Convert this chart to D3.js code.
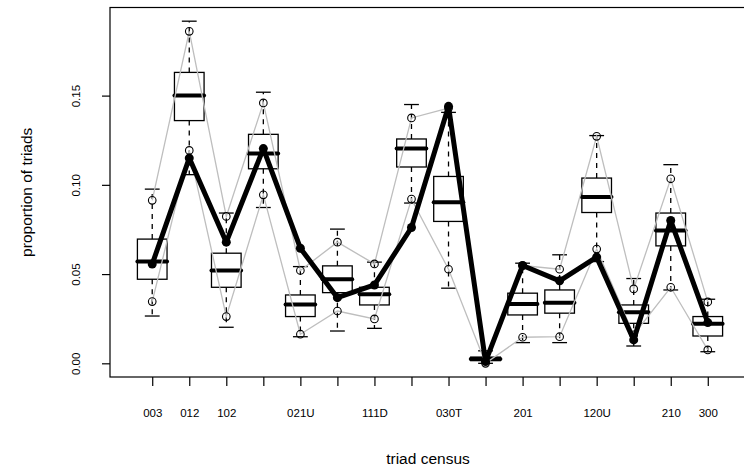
<!DOCTYPE html>
<html>
<head>
<meta charset="utf-8">
<script src="https://cdn.jsdelivr.net/npm/d3@7"></script>
<style>
body { margin: 0; background: white; }
svg { display: block; }
text { font-family: "Liberation Sans", Arial, Helvetica, sans-serif; fill: black; }
</style>
</head>
<body>
<svg id="chart" width="744" height="476"></svg>
<script>
// triad census categories
var categories = ["003", "012", "102", "021D", "021U", "021C", "111D", "111U",
    "030T", "030C", "201", "120D", "120U", "120C", "210", "300"];
// R drops labels that overlap, only these are printed
var shownLabels = ["003", "012", "102", "", "021U", "", "111D", "",
    "030T", "", "201", "", "120U", "", "210", "300"];

// boxplot stats (simulated networks)
var whiskerHi = [0.0976, 0.1917, 0.0842, 0.1519, 0.0542, 0.0752, 0.0567, 0.1450,
    0.1406, 0.0070, 0.0561, 0.0608, 0.1276, 0.0475, 0.1113, 0.0359];
var q3 = [0.0696, 0.1630, 0.0617, 0.1283, 0.0383, 0.0546, 0.0426, 0.1257,
    0.1047, 0.0035, 0.0393, 0.0411, 0.1038, 0.0327, 0.0842, 0.0262];
var median = [0.0570, 0.1500, 0.0520, 0.1175, 0.0329, 0.0471, 0.0387, 0.1203,
    0.0903, 0.0024, 0.0333, 0.0340, 0.0932, 0.0286, 0.0744, 0.0221];
var q1 = [0.0471, 0.1360, 0.0426, 0.1090, 0.0262, 0.0396, 0.0327, 0.1100,
    0.0795, 0.0015, 0.0271, 0.0281, 0.0845, 0.0224, 0.0658, 0.0153];
var whiskerLo = [0.0265, 0.1057, 0.0202, 0.0873, 0.0149, 0.0181, 0.0196, 0.0898,
    0.0421, 0.0000, 0.0116, 0.0116, 0.0570, 0.0097, 0.0411, 0.0065];

// grey reference lines
var upperObs = [0.0913, 0.1860, 0.0823, 0.1459, 0.0520, 0.0679, 0.0557, 0.1375,
    0.1430, 0.0020, 0.0548, 0.0527, 0.1272, 0.0417, 0.1034, 0.0344];
var lowerObs = [0.0346, 0.1193, 0.0262, 0.0944, 0.0163, 0.0293, 0.0249, 0.0920,
    0.0527, 0.0000, 0.0146, 0.0149, 0.0640, 0.0160, 0.0426, 0.0075];

// observed network (thick black)
var observed = [0.0556, 0.1150, 0.0679, 0.1203, 0.0645, 0.0368, 0.0439, 0.0761,
    0.1440, 0.0010, 0.0548, 0.0462, 0.0595, 0.0131, 0.0800, 0.0228];

var yTicks = [0, 0.05, 0.10, 0.15];

var svg = d3.select("#chart");
var margin = {left: 110, right: 750, top: 7.5, bottom: 377};

// R style 4% extension of the ranges
var n = categories.length;
var xlo = 0.5, xhi = n + 0.5;
var xpad = (xhi - xlo) * 0.04;
var x = d3.scaleLinear().domain([xlo - xpad, xhi + xpad]).range([margin.left, margin.right]);

var ymax = d3.max(whiskerHi.concat(upperObs, observed));
var ymin = 0;
var ypad = (ymax - ymin) * 0.04;
var y = d3.scaleLinear().domain([ymin - ypad, ymax + ypad]).range([margin.bottom, margin.top]);

var boxHalf = (x(1.4) - x(0.6)) / 2;
var capHalf = boxHalf / 2;

var idx = d3.range(n);

// boxes
var boxes = svg.append("g").attr("class", "boxes");
idx.forEach(function (i) {
    var cx = x(i + 1);
    var g = boxes.append("g");
    g.append("line")
        .attr("x1", cx).attr("x2", cx)
        .attr("y1", y(q3[i])).attr("y2", y(whiskerHi[i]))
        .attr("stroke", "black").attr("stroke-width", 1.3)
        .attr("stroke-dasharray", "5,5");
    g.append("line")
        .attr("x1", cx).attr("x2", cx)
        .attr("y1", y(q1[i])).attr("y2", y(whiskerLo[i]))
        .attr("stroke", "black").attr("stroke-width", 1.3)
        .attr("stroke-dasharray", "5,5");
    [whiskerHi[i], whiskerLo[i]].forEach(function (v) {
        g.append("line")
            .attr("x1", cx - capHalf).attr("x2", cx + capHalf)
            .attr("y1", y(v)).attr("y2", y(v))
            .attr("stroke", "black").attr("stroke-width", 1.3);
    });
    g.append("rect")
        .attr("x", cx - boxHalf).attr("width", boxHalf * 2)
        .attr("y", y(q3[i])).attr("height", y(q1[i]) - y(q3[i]))
        .attr("fill", "none").attr("stroke", "black").attr("stroke-width", 1.3);
    g.append("line")
        .attr("x1", cx - boxHalf).attr("x2", cx + boxHalf)
        .attr("y1", y(median[i])).attr("y2", y(median[i]))
        .attr("stroke", "black").attr("stroke-width", 4)
        .attr("stroke-linecap", "round");
});

// grey lines with open circles
var line = d3.line()
    .x(function (d, i) { return x(i + 1); })
    .y(function (d) { return y(d); });

[upperObs, lowerObs].forEach(function (series) {
    svg.append("path")
        .attr("d", line(series))
        .attr("fill", "none")
        .attr("stroke", "#BEBEBE")
        .attr("stroke-width", 1.3);
    svg.append("g").selectAll("circle")
        .data(series)
        .enter()
        .append("circle")
        .attr("cx", function (d, i) { return x(i + 1); })
        .attr("cy", function (d) { return y(d); })
        .attr("r", 3.8)
        .attr("fill", "none")
        .attr("stroke", "black")
        .attr("stroke-width", 1.1);
});

// observed thick line
svg.append("path")
    .attr("d", line(observed))
    .attr("fill", "none")
    .attr("stroke", "black")
    .attr("stroke-width", 5)
    .attr("stroke-linejoin", "round");
svg.append("g").selectAll("circle")
    .data(observed)
    .enter()
    .append("circle")
    .attr("cx", function (d, i) { return x(i + 1); })
    .attr("cy", function (d) { return y(d); })
    .attr("r", 4.5)
    .attr("fill", "black");

// frame
svg.append("rect")
    .attr("x", margin.left).attr("y", margin.top)
    .attr("width", margin.right - margin.left)
    .attr("height", margin.bottom - margin.top)
    .attr("fill", "none").attr("stroke", "black").attr("stroke-width", 1.2);

// y axis
var yAxis = svg.append("g")
    .attr("transform", "translate(" + margin.left + ",0)")
    .call(d3.axisLeft(y).tickValues(yTicks).tickFormat(d3.format(".2f")).tickSize(8));
yAxis.select(".domain").remove();
yAxis.selectAll("line").attr("stroke", "black").attr("stroke-width", 1.2);
yAxis.selectAll("text")
    .attr("x", 0).attr("dy", null)
    .attr("transform", "translate(-34,0) rotate(-90)")
    .attr("text-anchor", "middle")
    .attr("dominant-baseline", "central")
    .style("font-size", "11.5px")
    .attr("fill", "black");

// x axis
var xAxis = svg.append("g")
    .attr("transform", "translate(0," + margin.bottom + ")")
    .call(d3.axisBottom(x).tickValues(d3.range(1, n + 1))
        .tickFormat(function (d) { return shownLabels[d - 1]; }).tickSize(9));
xAxis.select(".domain").remove();
xAxis.selectAll("line").attr("stroke", "black").attr("stroke-width", 1.2);
xAxis.selectAll("text")
    .attr("y", 36).attr("dy", null)
    .attr("dominant-baseline", "central")
    .style("font-size", "11.5px")
    .attr("fill", "black");

// titles
svg.append("text")
    .attr("x", (margin.left + margin.right) / 2 - 2)
    .attr("y", 458)
    .attr("text-anchor", "middle")
    .attr("dominant-baseline", "central")
    .style("font-size", "15.5px")
    .text("triad census");

svg.append("text")
    .attr("transform", "translate(26," + (margin.top + margin.bottom) / 2 + ") rotate(-90)")
    .attr("text-anchor", "middle")
    .attr("dominant-baseline", "central")
    .style("font-size", "15.5px")
    .text("proportion of triads");
</script>
</body>
</html>
